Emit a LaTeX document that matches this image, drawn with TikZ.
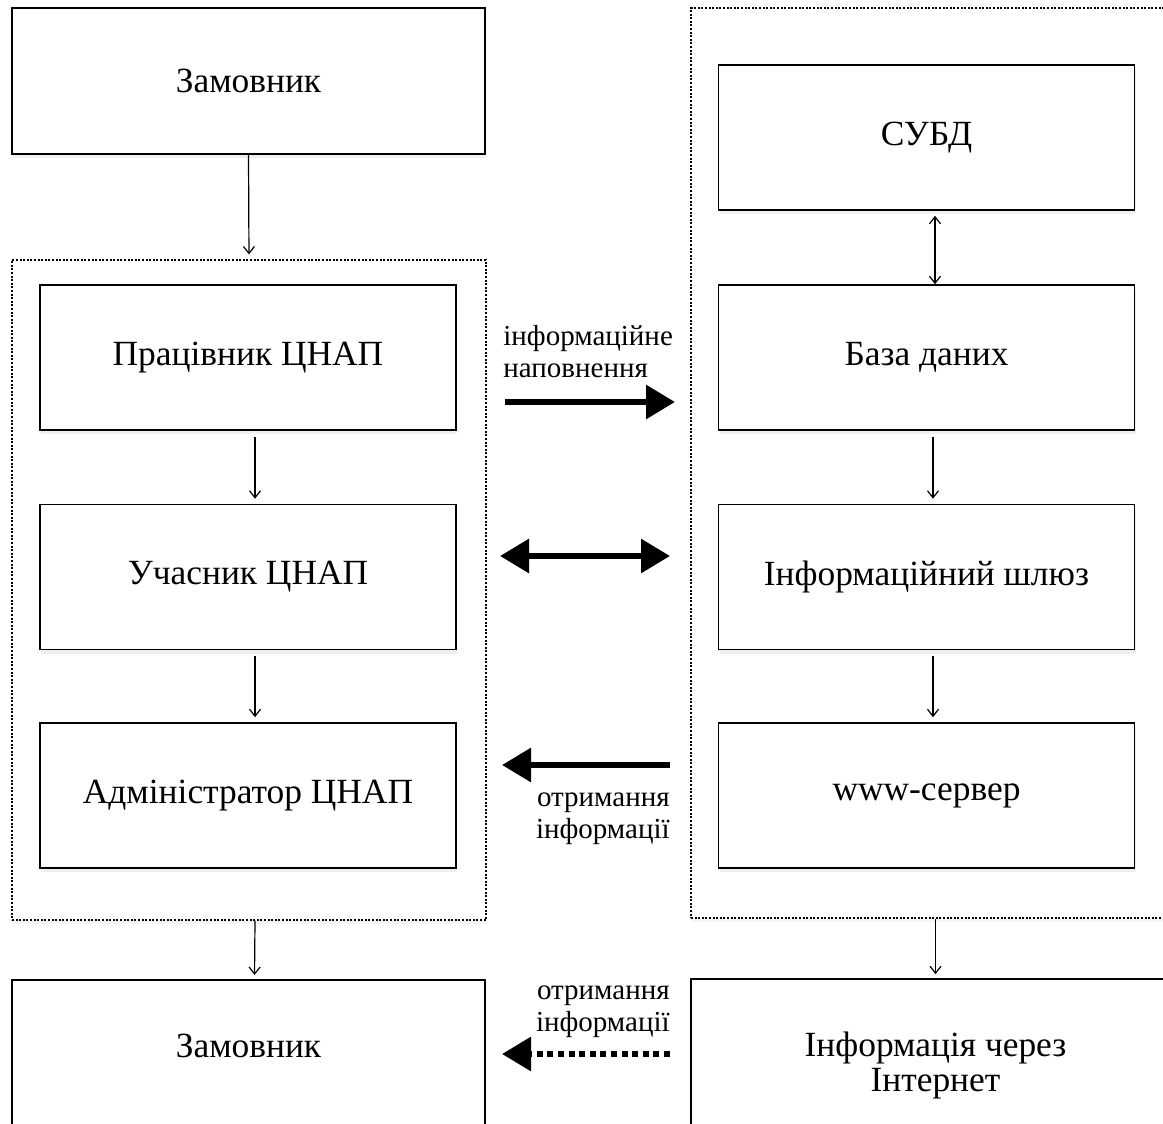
\documentclass[tikz,border=0pt]{standalone}
\usepackage{fontspec}
\setmainfont{Liberation Serif}
\usetikzlibrary{arrows.meta}
\usetikzlibrary{shadows}

\begin{document}
\begin{tikzpicture}[x=0.5pt, y=-0.5pt,
    box/.style={draw, line width=0.8pt, fill=white, minimum width=208pt, minimum height=72.5pt, align=center, font=\fontsize{17.7}{17.5}\selectfont, drop shadow={shadow xshift=0.5pt, shadow yshift=-2pt, opacity=0.12}},
    grp/.style={draw, line width=0.6pt, dash pattern=on 1pt off 0.8pt, fill=white, inner sep=0pt, drop shadow={shadow xshift=0.5pt, shadow yshift=-2pt, opacity=0.08}},
    link/.style={line width=0.6pt, -{Straight Barb[length=3.5pt, width=5.5pt]}},
    bigarrow/.style={line width=3pt, -{Triangle[length=14.5pt, width=16.5pt]}},
    lbl/.style={font=\fontsize{14.5}{16}\selectfont, inner sep=0pt}]
    \path[use as bounding box, clip] (0,0) rectangle (1163,1124);

    \node[grp, minimum width=237pt, minimum height=330pt] (lgrp) at (249,590) {};
    \node[grp, minimum width=244.5pt, minimum height=455pt] (rgrp) at (935.5,463) {};

    \node[box, minimum width=236.5pt, minimum height=73pt] (zam1) at (248.5,81) {Замовник};
    \node[box] (prac) at (248,357.5) {Працівник ЦНАП};
    \node[box] (uch) at (248,577) {Учасник ЦНАП};
    \node[box] (admin) at (248,795.5) {Адміністратор ЦНАП};
    \node[box, minimum width=236.5pt, anchor=north, inner ysep=0pt, text height=39pt, text depth=40pt] (zam2) at (248.5,979) {Замовник};

    \node[box] (subd) at (926.5,137.5) {СУБД};
    \node[box] (baza) at (926.5,357.5) {База даних};
    \node[box] (shluz) at (926.5,577) {Інформаційний шлюз};
    \node[box] (www) at (926.5,795.5) {www-сервер};
    \node[box, minimum width=244.5pt, minimum height=86.5pt] (inet) at (935.5,1065.5) {Інформація через\\Інтернет};

    \draw[link, shorten >=2.5pt] (zam1.south) -- (lgrp.north);
    \draw[link, shorten <=3pt, shorten >=2.5pt] ([xshift=3.5pt]prac.south) -- ([xshift=3.5pt]uch.north);
    \draw[link, shorten <=3pt, shorten >=2.5pt] ([xshift=3.5pt]uch.south) -- ([xshift=3.5pt]admin.north);
    \draw[link, shorten >=2pt] ([xshift=3pt]lgrp.south) -- ([xshift=3pt]zam2.north);
    \draw[link, {Straight Barb[length=3.5pt, width=5.5pt]}-{Straight Barb[length=3.5pt, width=5.5pt]}, shorten <=2.5pt] ([xshift=4.25pt]subd.south) -- ([xshift=4.25pt]baza.north);
    \draw[link, shorten <=3pt, shorten >=2.5pt] ([xshift=3.25pt]baza.south) -- ([xshift=3.25pt]shluz.north);
    \draw[link, shorten <=3pt, shorten >=2.5pt] ([xshift=3.25pt]shluz.south) -- ([xshift=3.25pt]www.north);
    \draw[link, shorten >=2pt] (rgrp.south) -- (inet.north);

    \coordinate (fillA) at (505,402);
    \coordinate (fillB) at (675,402);
    \coordinate (swapA) at (500,556);
    \coordinate (swapB) at (670,556);
    \coordinate (getA) at (670,765);
    \coordinate (getB) at (502,765);
    \coordinate (webA) at (670,1054);
    \coordinate (webB) at (502,1054);

    \draw[bigarrow] (fillA) -- (fillB);
    \draw[bigarrow, {Triangle[length=14.5pt, width=16.5pt]}-{Triangle[length=14.5pt, width=16.5pt]}] (swapA) -- (swapB);
    \draw[bigarrow] (getA) -- (getB);
    \draw[bigarrow, dash pattern=on 3pt off 2.3pt] (webA) -- (webB);

    \node[lbl, anchor=west, align=left] (fillL) at (503,351.5) {інформаційне\\наповнення};
    \node[lbl, anchor=east, align=right] (getL) at (670,819) {отримання\\інформації};
    \node[lbl, anchor=east, align=right] (webL) at (670,1011.5) {отримання\\інформації};
  \end{tikzpicture}
\end{document}
